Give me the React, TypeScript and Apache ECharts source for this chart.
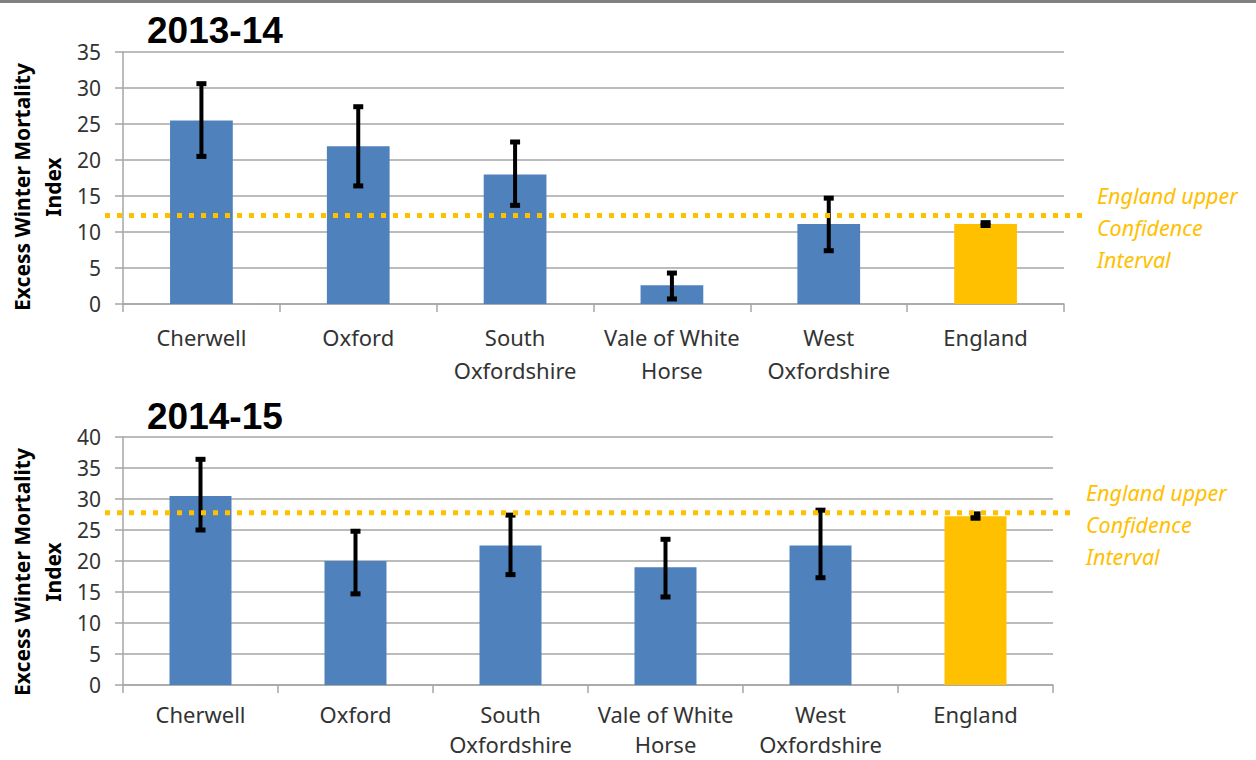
import React, { useEffect, useRef } from "react";
import * as echarts from "echarts";

// Local authorities plus the England comparator
const categories = [
  "Cherwell",
  "Oxford",
  "South\nOxfordshire",
  "Vale of White\nHorse",
  "West\nOxfordshire",
  "England",
];
const englandIndex = 5;

// Excess Winter Mortality Index, 2013-14, with 95% confidence limits
const ewm2013 = [25.5, 21.9, 18.0, 2.6, 11.1, 11.1];
const lower2013 = [20.5, 16.4, 13.7, 0.7, 7.4, 10.9];
const upper2013 = [30.6, 27.4, 22.5, 4.3, 14.7, 11.3];
const englandUpperCI2013 = 12.3;

// Excess Winter Mortality Index, 2014-15, with 95% confidence limits
const ewm2014 = [30.5, 20.0, 22.5, 19.0, 22.5, 27.2];
const lower2014 = [25.0, 14.7, 17.8, 14.2, 17.3, 26.9];
const upper2014 = [36.4, 24.8, 27.4, 23.5, 28.2, 27.6];
const englandUpperCI2014 = 27.8;

// Value axis ranges
const yMax2013 = 35;
const yMax2014 = 40;
const yStep = 5;

const BLUE = "#4F81BD";
const GOLD = "#FFC000";
const GRID_GREY = "#a6a6a6";
const TEXT = "#333333";
const SANS = "'Noto Sans', 'Open Sans', sans-serif";

const panels = [
  {
    title: "2013-14",
    values: ewm2013,
    lower: lower2013,
    upper: upper2013,
    ci: englandUpperCI2013,
    yMax: yMax2013,
    grid: { left: 123, top: 52, width: 941, height: 252 },
    labelLineHeight: 33,
    labelMargin: 16,
    titleY: 30,
    axisTitleY: 187,
  },
  {
    title: "2014-15",
    values: ewm2014,
    lower: lower2014,
    upper: upper2014,
    ci: englandUpperCI2014,
    yMax: yMax2014,
    grid: { left: 123, top: 437, width: 930, height: 248 },
    // slightly tighter two-line labels so the second line stays inside the canvas
    labelLineHeight: 30,
    labelMargin: 14,
    titleY: 416,
    axisTitleY: 572,
  },
];

function errorBarRenderer(params: any, api: any) {
  const idx = api.value(0);
  const lo = api.coord([idx, api.value(1)]);
  const hi = api.coord([idx, api.value(2)]);
  const x = lo[0];
  const stroke = { stroke: "#000", lineWidth: 4 };
  const cap = { stroke: "#000", lineWidth: 5 };
  return {
    type: "group",
    children: [
      { type: "line", shape: { x1: x, y1: hi[1], x2: x, y2: lo[1] }, style: stroke },
      { type: "line", shape: { x1: x - 5, y1: hi[1], x2: x + 5, y2: hi[1] }, style: cap },
      { type: "line", shape: { x1: x - 5, y1: lo[1], x2: x + 5, y2: lo[1] }, style: cap },
    ],
  };
}

function ciLineRenderer(params: any, api: any) {
  const cs = params.coordSys;
  const y = api.coord([0, api.value(1)])[1];
  const right = cs.x + cs.width;
  return {
    type: "group",
    children: [
      {
        type: "line",
        shape: { x1: cs.x - 18, y1: y, x2: right + 23, y2: y },
        style: { stroke: GOLD, lineWidth: 5, lineDash: [5, 7] },
      },
      {
        type: "text",
        x: right + 33,
        y: y - 36,
        style: {
          text: "England upper\nConfidence\nInterval",
          fill: GOLD,
          fontSize: 21.5,
          fontStyle: "italic",
          fontFamily: SANS,
          lineHeight: 32,
          align: "left",
          verticalAlign: "top",
        },
      },
    ],
  };
}

export default function App() {
  const ref = useRef<HTMLDivElement>(null);

  useEffect(() => {
    if (!ref.current) return;
    const chart = echarts.init(ref.current, null, { renderer: "svg" });

    const grids = panels.map((p) => ({ ...p.grid, outerBoundsMode: "none" }));
    const xAxes = panels.map((p, i) => ({
      type: "category",
      gridIndex: i,
      data: categories,
      axisLine: { show: true, lineStyle: { color: GRID_GREY, width: 1.5 } },
      axisTick: { show: true, length: 8, lineStyle: { color: GRID_GREY, width: 1.5 } },
      axisLabel: {
        interval: 0,
        fontSize: 22,
        fontFamily: SANS,
        color: TEXT,
        lineHeight: p.labelLineHeight,
        margin: p.labelMargin,
      },
    }));
    const yAxes = panels.map((p, i) => ({
      type: "value",
      gridIndex: i,
      min: 0,
      max: p.yMax,
      interval: yStep,
      axisLine: { show: true, lineStyle: { color: GRID_GREY, width: 1.5 } },
      axisTick: { show: true, length: 8, lineStyle: { color: GRID_GREY, width: 1.5 } },
      splitLine: { show: true, lineStyle: { color: GRID_GREY, width: 1.5 } },
      axisLabel: { fontSize: 21, fontFamily: SANS, color: TEXT, margin: 22 },
    }));

    const series: any[] = [];
    panels.forEach((p, i) => {
      series.push({
        type: "bar",
        xAxisIndex: i,
        yAxisIndex: i,
        barWidth: "40%",
        z: 2,
        data: p.values.map((v, k) => ({
          value: v,
          itemStyle: { color: k === englandIndex ? GOLD : BLUE },
        })),
      });
      series.push({
        type: "custom",
        xAxisIndex: i,
        yAxisIndex: i,
        z: 3,
        renderItem: errorBarRenderer,
        data: p.values.map((_, k) => [k, p.lower[k], p.upper[k]]),
      });
      series.push({
        type: "custom",
        xAxisIndex: i,
        yAxisIndex: i,
        z: 4,
        clip: false,
        renderItem: ciLineRenderer,
        data: [[0, p.ci]],
      });
    });

    const graphic: any[] = [
      {
        type: "rect",
        shape: { x: 0, y: 0, width: 1256, height: 3 },
        style: { fill: "#808080" },
      },
    ];
    panels.forEach((p) => {
      graphic.push({
        type: "text",
        x: 147,
        y: p.titleY,
        style: {
          text: p.title,
          fill: "#000",
          fontSize: 37,
          fontWeight: "bold",
          fontFamily: "'Liberation Sans', Arial, sans-serif",
          align: "left",
          verticalAlign: "middle",
        },
      });
      graphic.push({
        type: "text",
        x: 37,
        y: p.axisTitleY,
        rotation: Math.PI / 2,
        style: {
          text: "Excess Winter Mortality\nIndex",
          fill: "#000",
          fontSize: 21,
          fontWeight: "bold",
          fontFamily: SANS,
          lineHeight: 31,
          align: "center",
          verticalAlign: "middle",
        },
      });
    });

    chart.setOption({
      animation: false,
      backgroundColor: "#ffffff",
      grid: grids,
      xAxis: xAxes,
      yAxis: yAxes,
      series,
      graphic,
    });

    return () => chart.dispose();
  }, []);

  return (
    <div
      ref={ref}
      style={{ position: "fixed", left: 0, top: 0, width: 1256, height: 760 }}
    />
  );
}
